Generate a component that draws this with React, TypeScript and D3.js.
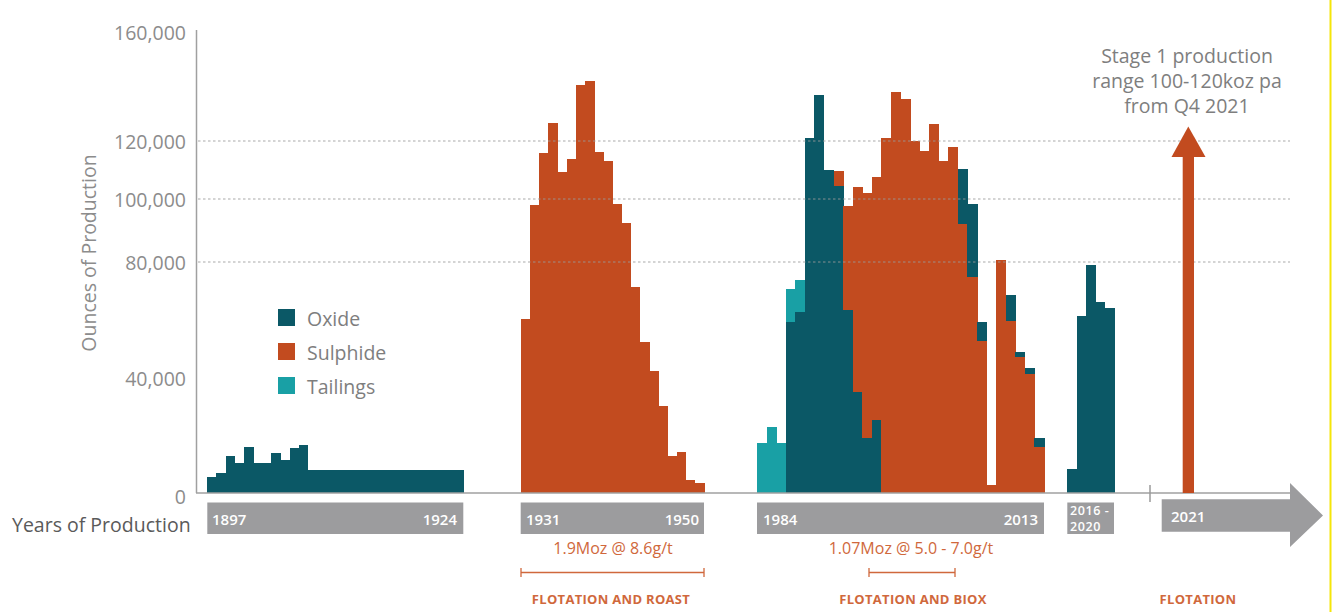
import React from "react";
import * as d3 from "d3";

// ---------- DATA ----------
const seg1Years = d3.range(1897, 1925);
const seg1Oxide = [5600, 7000, 12800, 10500, 16000, 10500, 10500, 13900, 11400, 15500, 16600,
  8000, 8000, 8000, 8000, 8000, 8000, 8000, 8000, 8000, 8000, 8000, 8000, 8000, 8000, 8000, 8000, 8000];

const seg2Years = d3.range(1931, 1951);
const seg2Sulphide = [60500, 98000, 116000, 126700, 109200, 113800, 140600, 142100, 116300, 113100,
  98300, 92300, 71300, 52500, 42400, 30300, 13000, 14400, 4500, 3400];

const seg3Years = d3.range(1984, 2014);
const seg3Oxide = [0, 0, 0, 59200, 62700, 121200, 136900, 110000, 104500, 63400,
  35200, 19000, 25400, 0, 0, 0, 0, 0, 0, 0,
  0, 18100, 23500, 6600, 0, 0, 8800, 1800, 2300, 2900];
const seg3Sulphide = [0, 0, 0, 0, 0, 0, 0, 0, 5300, 34400,
  68800, 83200, 82300, 121200, 138100, 135300, 120000, 116600, 126100, 113100,
  118000, 92100, 74900, 52800, 2800, 80600, 59800, 47300, 41300, 16100];
const seg3Tailings = [17500, 23100, 17500, 11400, 11100, 0, 0, 0, 0, 0,
  0, 0, 0, 0, 0, 0, 0, 0, 0, 0,
  0, 0, 0, 0, 0, 0, 0, 0, 0, 0];

const seg4Years = d3.range(2016, 2021);
const seg4Oxide = [8200, 61400, 79000, 66300, 64200];

const yTicks = [0, 40000, 80000, 100000, 120000, 160000];
const gridTicks = [80000, 100000, 120000];
const seriesNames = ["Oxide", "Sulphide", "Tailings"];
const stackEarly = ["oxide", "tailings", "sulphide"];
const stackLate = ["sulphide", "oxide", "tailings"];
const stackSwitchYear = 2000;

// ---------- STYLE ----------
const COLORS: Record<string, string> = { oxide: "#0b5866", sulphide: "#c24b1f", tailings: "#19a0a5" };
const LEG_COLORS = [COLORS.oxide, COLORS.sulphide, COLORS.tailings];
const FONT = "'Open Sans', 'Noto Sans', sans-serif";
const BOX = "#9c9c9e";
const ORANGE_TXT = "#d0683c";

const W = 1334, H = 612;
const baseY = 493;

const y = d3.scaleLinear()
  .domain([0, 40000, 80000, 100000, 120000, 160000])
  .range([baseY, 378, 262, 199, 141, 32]);

type Rec = { year: number; oxide: number; sulphide: number; tailings: number };

const segments = [
  { x0: 207.3, x1: 463.3, years: seg1Years, rows: seg1Years.map((yr, i) => ({ year: yr, oxide: seg1Oxide[i], sulphide: 0, tailings: 0 })) },
  { x0: 520.7, x1: 704, years: seg2Years, rows: seg2Years.map((yr, i) => ({ year: yr, oxide: 0, sulphide: seg2Sulphide[i], tailings: 0 })) },
  { x0: 757, x1: 1044, years: seg3Years, rows: seg3Years.map((yr, i) => ({ year: yr, oxide: seg3Oxide[i], sulphide: seg3Sulphide[i], tailings: seg3Tailings[i] })) },
  { x0: 1067.3, x1: 1114, years: seg4Years, rows: seg4Years.map((yr, i) => ({ year: yr, oxide: seg4Oxide[i], sulphide: 0, tailings: 0 })) },
];

export default function App() {
  const bars: React.ReactNode[] = [];
  segments.forEach((seg, si) => {
    const x = d3.scaleBand<number>().domain(seg.years).range([seg.x0, seg.x1]).padding(0);
    seg.rows.forEach((r: Rec) => {
      const order = r.year < stackSwitchYear ? stackEarly : stackLate;
      let cum = 0;
      order.forEach((k) => {
        const v = (r as any)[k] as number;
        if (v <= 0) return;
        const yTop = y(cum + v);
        const yBot = y(cum);
        cum += v;
        bars.push(
          <rect key={`${si}-${r.year}-${k}`} x={x(r.year)!} y={yTop}
            width={x.bandwidth() + 0.5} height={yBot - yTop} fill={COLORS[k]} />
        );
      });
    });
  });

  const boxY = 502.5, boxH = 31.5;
  const boxTxt = { dominantBaseline: "central" as const, fontSize: 15, fontWeight: 600, fill: "#fff" };
  const MED = 500;

  return (
    <div style={{ position: "absolute", left: 0, top: 0 }}>
      <svg width={W} height={H} style={{ display: "block", background: "#fff" }} fontFamily={FONT}>
        {/* y axis */}
        <line x1={196.5} x2={196.5} y1={30} y2={baseY} stroke="#a0a0a0" strokeWidth={1.5} />
        {yTicks.map((t) => (
          <text key={t} x={186} y={y(t) + (t === 0 ? 3 : 0)} textAnchor="end" dominantBaseline="central"
            fontSize={19.5} fontWeight={MED} fill="#8c8c8c">{d3.format(",")(t)}</text>
        ))}
        <text transform={`translate(88,253) rotate(-90)`} textAnchor="middle" dominantBaseline="central"
          fontSize={19.5} fontWeight={MED} fill="#8c8c8c">Ounces of Production</text>

        {/* bars */}
        <g shapeRendering="crispEdges">{bars}</g>

        {/* gridlines (drawn over bars, as in the reference) */}
        {gridTicks.map((t) => (
          <line key={t} x1={198} x2={1290} y1={y(t)} y2={y(t)} stroke="#9a9a9a" strokeOpacity={0.85} strokeWidth={1} strokeDasharray="2.5,2.5" />
        ))}

        {/* baseline */}
        <line x1={196} x2={1290} y1={baseY} y2={baseY} stroke="#a0a0a0" strokeWidth={1.5} />
        <line x1={1150} x2={1150} y1={485} y2={502} stroke="#9a9a9a" strokeWidth={1.5} />

        {/* legend */}
        {seriesNames.map((n, i) => (
          <g key={n} transform={`translate(278,${309 + i * 34})`}>
            <rect width={17} height={17} fill={LEG_COLORS[i]} />
            <text x={29} y={9} dominantBaseline="central" fontSize={19.5} fontWeight={MED} fill="#7e7e7e">{n}</text>
          </g>
        ))}

        {/* year boxes */}
        <text x={12} y={524} dominantBaseline="central" fontSize={19.5} fontWeight={MED} fill="#5a5a5a">Years of Production</text>
        <rect x={207.3} y={boxY} width={256} height={boxH} fill={BOX} />
        <text x={212} y={519} {...boxTxt}>1897</text>
        <text x={457} y={519} textAnchor="end" {...boxTxt}>1924</text>
        <rect x={520.7} y={boxY} width={183.3} height={boxH} fill={BOX} />
        <text x={526} y={519} {...boxTxt}>1931</text>
        <text x={699} y={519} textAnchor="end" {...boxTxt}>1950</text>
        <rect x={757} y={boxY} width={287} height={boxH} fill={BOX} />
        <text x={763} y={519} {...boxTxt}>1984</text>
        <text x={1038} y={519} textAnchor="end" {...boxTxt}>2013</text>
        <rect x={1067.3} y={boxY} width={46.7} height={boxH} fill={BOX} />
        <text x={1070} y={510.5} dominantBaseline="central" fontSize={12.5} fontWeight={600} letterSpacing={0.6} fill="#fff">2016 -</text>
        <text x={1070} y={526.5} dominantBaseline="central" fontSize={12.5} fontWeight={600} letterSpacing={0.6} fill="#fff">2020</text>
        {/* future arrow */}
        <path d="M1161.7,499.3 L1290,499.3 L1290,483 L1323,515.5 L1290,547 L1290,531.7 L1161.7,531.7 Z" fill={BOX} />
        <text x={1171} y={516} {...boxTxt}>2021</text>

        {/* stage 1 arrow */}
        <rect x={1182.7} y={155} width={11.3} height={baseY - 155} fill={COLORS.sulphide} />
        <path d="M1171.5,157 L1188.3,126.5 L1205.5,157 Z" fill={COLORS.sulphide} />
        {["Stage 1 production", "range 100-120koz pa", "from Q4 2021"].map((s, i) => (
          <text key={s} x={1187} y={55 + i * 25} textAnchor="middle" dominantBaseline="central" fontSize={19.5} fontWeight={MED} fill="#7e7e7e">{s}</text>
        ))}

        {/* annotations */}
        <text x={613} y={548} textAnchor="middle" dominantBaseline="central" fontSize={16} fontWeight={MED} fill={ORANGE_TXT}>1.9Moz @ 8.6g/t</text>
        <line x1={521} x2={704} y1={572.5} y2={572.5} stroke={ORANGE_TXT} strokeWidth={1.3} />
        <line x1={521} x2={521} y1={568} y2={577} stroke={ORANGE_TXT} strokeWidth={1.3} />
        <line x1={704} x2={704} y1={568} y2={577} stroke={ORANGE_TXT} strokeWidth={1.3} />
        <text x={611} y={599} textAnchor="middle" dominantBaseline="central" fontSize={13} fontWeight={700} letterSpacing={0.3} fill={ORANGE_TXT}>FLOTATION AND ROAST</text>

        <text x={911} y={548} textAnchor="middle" dominantBaseline="central" fontSize={16} fontWeight={MED} fill={ORANGE_TXT}>1.07Moz @ 5.0 - 7.0g/t</text>
        <line x1={869} x2={955} y1={572.5} y2={572.5} stroke={ORANGE_TXT} strokeWidth={1.3} />
        <line x1={869} x2={869} y1={568} y2={577} stroke={ORANGE_TXT} strokeWidth={1.3} />
        <line x1={955} x2={955} y1={568} y2={577} stroke={ORANGE_TXT} strokeWidth={1.3} />
        <text x={913} y={599} textAnchor="middle" dominantBaseline="central" fontSize={13} fontWeight={700} letterSpacing={0.3} fill={ORANGE_TXT}>FLOTATION AND BIOX</text>

        <text x={1198} y={599} textAnchor="middle" dominantBaseline="central" fontSize={13} fontWeight={700} letterSpacing={0.3} fill={ORANGE_TXT}>FLOTATION</text>

        {/* right edge yellow line */}
        <line x1={1330.5} x2={1330.5} y1={0} y2={H} stroke="#f5e60a" strokeWidth={2} />
      </svg>
    </div>
  );
}
